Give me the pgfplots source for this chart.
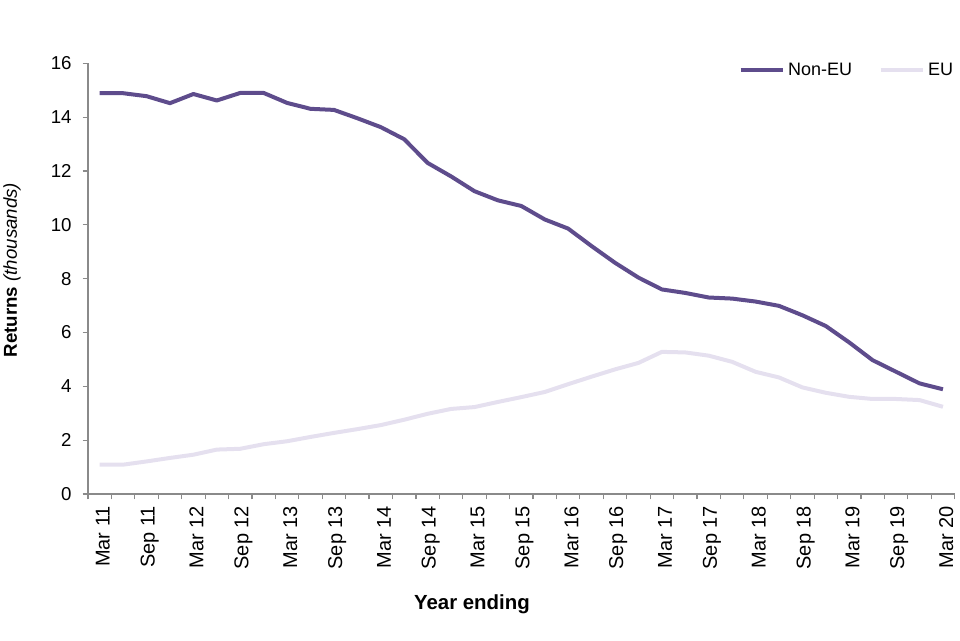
\documentclass[border=0pt]{standalone}
\usepackage{fontspec}
\setmainfont{Liberation Sans}
\usepackage{pgfplots}
\pgfplotsset{compat=1.18}
\usepackage{pgfplotstable}

\definecolor{noneu}{HTML}{5E4C8C}
\definecolor{eu}{HTML}{E5E0EF}
\definecolor{axisgrey}{HTML}{8A8A8A}

% quarter index (0 = year ending Mar 11), returns in thousands
\pgfplotstableread{
q  noneu  eu
0  14.89  1.09
1  14.89  1.09
2  14.78  1.21
3  14.52  1.34
4  14.86  1.46
5  14.62  1.65
6  14.90  1.68
7  14.90  1.85
8  14.53  1.96
9  14.31  2.12
10 14.27  2.27
11 13.96  2.41
12 13.63  2.56
13 13.18  2.76
14 12.30  2.98
15 11.80  3.16
16 11.25  3.23
17 10.91  3.42
18 10.70  3.60
19 10.20  3.79
20  9.86  4.08
21  9.21  4.36
22  8.59  4.63
23  8.04  4.87
24  7.60  5.28
25  7.47  5.26
26  7.30  5.14
27  7.26  4.91
28  7.15  4.54
29  6.99  4.33
30  6.64  3.96
31  6.24  3.76
32  5.63  3.61
33  4.97  3.53
34  4.54  3.53
35  4.11  3.49
36  3.89  3.24
}\returns

\begin{document}
\begin{tikzpicture}
\begin{axis}[
    scale only axis,
    width=650pt, height=323pt,
    xmin=-0.5, xmax=36.5,
    ymin=0, ymax=16,
    axis lines*=left,
    axis line style={axisgrey, line width=0.9pt},
    tick style={axisgrey, line width=0.9pt},
    tick align=outside,
    major tick length=4pt,
    xtick={-0.5,0.5,...,36.5},
    xticklabels={},
    extra x ticks={0,2,...,36},
    extra x tick labels={Mar 11,Sep 11,Mar 12,Sep 12,Mar 13,Sep 13,Mar 14,Sep 14,Mar 15,Sep 15,Mar 16,Sep 16,Mar 17,Sep 17,Mar 18,Sep 18,Mar 19,Sep 19,Mar 20},
    extra x tick style={major tick length=0pt,
        tick label style={rotate=90, anchor=east, xshift=-5.5pt, yshift=-2.4pt, inner ysep=1pt,
            font=\fontsize{15}{17}\selectfont}},
    ytick={0,2,...,16},
    yticklabel style={xshift=-4.8pt},
    tick label style={font=\fontsize{14}{16}\selectfont, black},
    /pgf/number format/assume math mode=true,
    xlabel={\textbf{Year ending}},
    every axis x label/.style={at={(axis description cs:0.443,0)}, yshift=-83pt, anchor=center,
        font=\fontsize{15.3}{17}\selectfont},
    ylabel={\textbf{Returns} \textit{(thousands)}},
    every axis y label/.style={at={(axis description cs:0,0.52)}, xshift=-57pt, rotate=90, anchor=center,
        font=\fontsize{14}{16}\selectfont},
    legend style={draw=none, fill=none, legend columns=2,
        at={(rel axis cs:1,1)}, anchor=east, yshift=-5pt, xshift=4pt,
        font=\fontsize{13.5}{15}\selectfont,
        /tikz/every even column/.append style={column sep=18pt}},
    legend image code/.code={\draw[#1] (0pt,0pt) -- (32pt,0pt);},
    legend cell align=left,
]
\addplot[noneu, line width=3pt, line join=round] table[x=q, y=noneu] {\returns};
\addlegendentry{Non-EU}
\addplot[eu, line width=3pt, line join=round] table[x=q, y=eu] {\returns};
\addlegendentry{EU}
\end{axis}
\pgfresetboundingbox
\path[use as bounding box] (-66pt,-109.5pt) rectangle (654pt,370.5pt);
\end{tikzpicture}
\end{document}
